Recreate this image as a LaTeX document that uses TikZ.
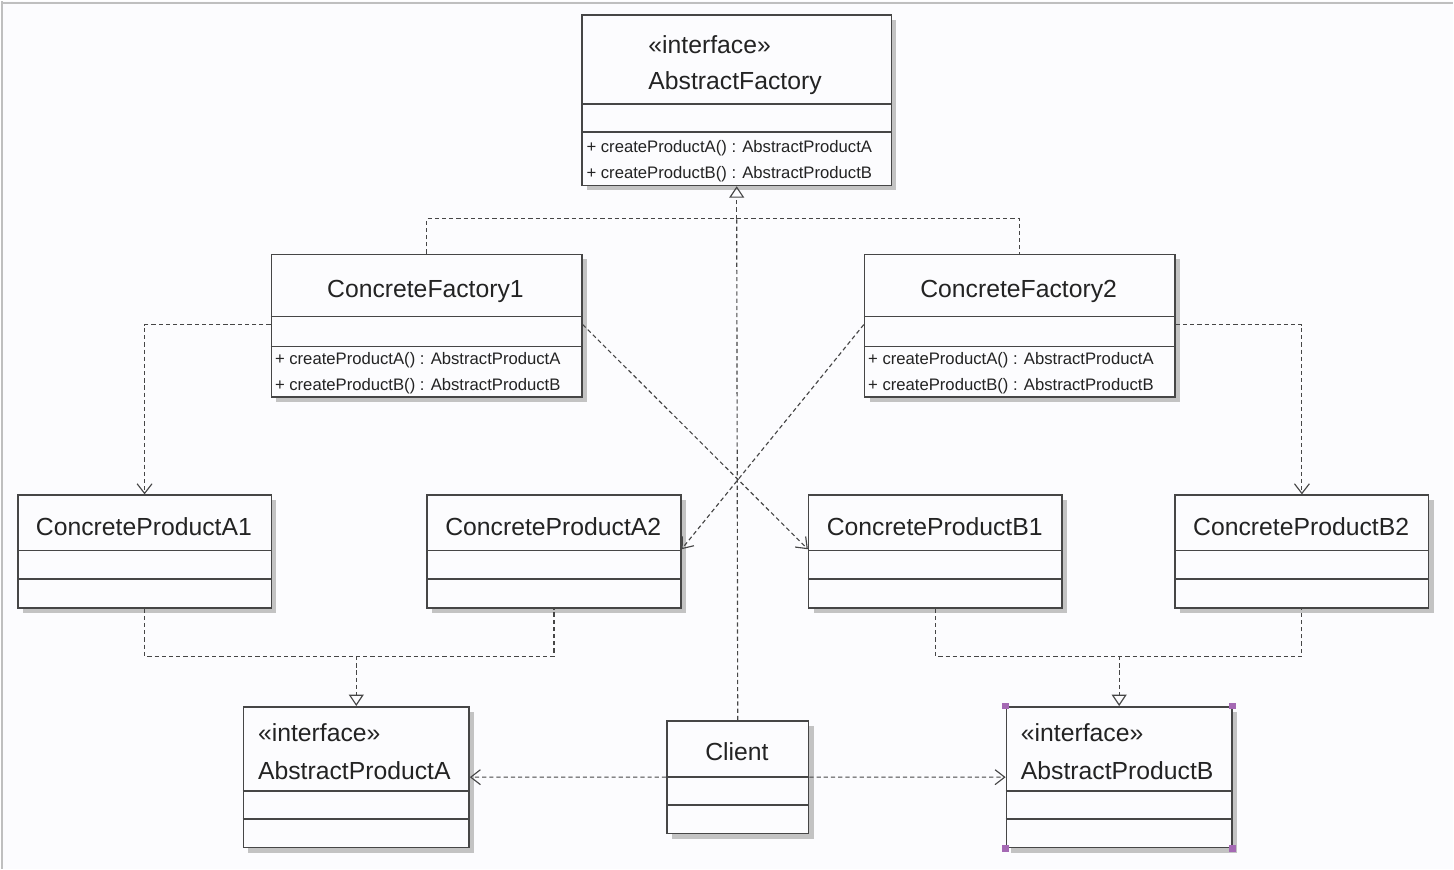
\documentclass[tikz,border=0pt]{standalone}
\usepackage{fontspec}
\setmainfont{Liberation Sans}
\usetikzlibrary{arrows.meta, shadows, positioning, calc}
\definecolor{umlline}{RGB}{70, 70, 70}
\definecolor{umltext}{RGB}{35, 35, 35}
\definecolor{umlbg}{RGB}{252, 252, 254}
\definecolor{umlshadow}{RGB}{195, 195, 195}
\definecolor{handle}{RGB}{165, 105, 180}

\begin{document}
\begin{tikzpicture}[x=0.02cm, y=-0.02cm,
  classbox/.style={draw=umlline, line width=0.85pt, fill=umlbg, anchor=north west, inner sep=0pt,
    drop shadow={shadow xshift=0.1cm, shadow yshift=-0.1cm, fill=umlshadow, opacity=1}},
  divider/.style={draw=umlline, line width=0.85pt},
  umltitle/.style={text=umltext, font=\fontsize{14.1}{17}\selectfont, inner sep=0pt, anchor=base},
  umlop/.style={text=umltext, font=\fontsize{9.5}{11}\selectfont, inner sep=0pt, anchor=base west},
  dashline/.style={draw=umlline, line width=0.65pt, dash pattern=on 2.4pt off 1.7pt},
  dep/.style={dashline, -{Straight Barb[length=5.5pt, width=8.5pt]}},
  real/.style={dashline, -{Triangle[open, length=6.5pt, width=8.5pt]}}]
  % Canvas
  \fill[umlbg] (0,0) rectangle (1454,869);
  \draw[black!25, line width=1.2pt] (0,2) -- (1454,2);
  \draw[black!25, line width=1.2pt] (1,0) -- (1,869);

  % Abstract factory
  \node[classbox, minimum width=6.2cm, minimum height=3.42cm] (af) at (581,13) {};
  \draw[divider] (af.west |- 0,103) -- (af.east |- 0,103);
  \draw[divider] (af.west |- 0,131) -- (af.east |- 0,131);
  \node[umltitle, anchor=base west] (afstereo) at (648,53) {«interface»};
  \node[umltitle, anchor=base west] (afname) at (648,89) {AbstractFactory};
  \node[umlop] (afopa) at (586,152) {+ createProductA() : AbstractProductA};
  \node[umlop] (afopb) at (586,178) {+ createProductB() : AbstractProductB};

  % Concrete factories
  \node[classbox, minimum width=6.22cm, minimum height=2.86cm] (cf1) at (270,253) {};
  \draw[divider] (cf1.west |- 0,316) -- (cf1.east |- 0,316);
  \draw[divider] (cf1.west |- 0,346) -- (cf1.east |- 0,346);
  \node[umltitle] (cf1name) at (425,297) {ConcreteFactory1};
  \node[umlop] (cf1opa) at (274,364) {+ createProductA() : AbstractProductA};
  \node[umlop] (cf1opb) at (274,390) {+ createProductB() : AbstractProductB};

  \node[classbox, minimum width=6.22cm, minimum height=2.86cm] (cf2) at (864,253) {};
  \draw[divider] (cf2.west |- 0,316) -- (cf2.east |- 0,316);
  \draw[divider] (cf2.west |- 0,346) -- (cf2.east |- 0,346);
  \node[umltitle] (cf2name) at (1019,297) {ConcreteFactory2};
  \node[umlop] (cf2opa) at (868,364) {+ createProductA() : AbstractProductA};
  \node[umlop] (cf2opb) at (868,390) {+ createProductB() : AbstractProductB};

  % Concrete products
  \foreach \id/\x/\label in {a1/16/ConcreteProductA1, a2/426/ConcreteProductA2,
                             b1/808/ConcreteProductB1, b2/1175/ConcreteProductB2} {
    \node[classbox, minimum width=5.08cm, minimum height=2.26cm] (\id) at (\x,494) {};
    \draw[divider] (\id.west |- 0,550) -- (\id.east |- 0,550);
    \draw[divider] (\id.west |- 0,579) -- (\id.east |- 0,579);
    \node[umltitle] (\id name) at (\x+127,535) {\label};
  }

  % Abstract products and client
  \node[classbox, minimum width=4.52cm, minimum height=2.82cm] (apa) at (242,706) {};
  \draw[divider] (apa.west |- 0,791) -- (apa.east |- 0,791);
  \draw[divider] (apa.west |- 0,819) -- (apa.east |- 0,819);
  \node[umltitle, anchor=base west] (apastereo) at (257,742) {«interface»};
  \node[umltitle, anchor=base west] (apaname) at (257,780) {AbstractProductA};

  \node[classbox, minimum width=4.52cm, minimum height=2.82cm] (apb) at (1006,706) {};
  \draw[divider] (apb.west |- 0,791) -- (apb.east |- 0,791);
  \draw[divider] (apb.west |- 0,819) -- (apb.east |- 0,819);
  \node[umltitle, anchor=base west] (apbstereo) at (1021,742) {«interface»};
  \node[umltitle, anchor=base west] (apbname) at (1021,780) {AbstractProductB};
  \foreach \c in {north west, north east, south west, south east}
    \fill[handle] (apb.\c) ++(-0.065cm,-0.065cm) rectangle ++(0.13cm,0.13cm);

  \node[classbox, minimum width=2.84cm, minimum height=2.26cm] (client) at (666,720) {};
  \draw[divider] (client.west |- 0,777) -- (client.east |- 0,777);
  \draw[divider] (client.west |- 0,805) -- (client.east |- 0,805);
  \node[umltitle] (clientname) at (737,761) {Client};

  % Realizations
  \coordinate (fjoin) at (af.south |- 0,218);
  \coordinate (ajoin) at (apa.north |- 0,656);
  \coordinate (bjoin) at (apb.north |- 0,656);
  \draw[dashline] (cf1.north) |- (fjoin) -| (cf2.north);
  \draw[dashline] (client.north) -- (fjoin);
  \draw[real] (fjoin) -- (af.south);
  \draw[dashline] (a1.south) |- (ajoin) -| (a2.south);
  \draw[real] (ajoin) -- (apa.north);
  \draw[dashline] (b1.south) |- (bjoin) -| (b2.south);
  \draw[real] (bjoin) -- (apb.north);

  % Dependencies
  \draw[dep] ([yshift=-1.42cm]cf1.north west) -| (a1.north);
  \draw[dep] ([yshift=-1.42cm]cf1.north east) -- ([yshift=-1.1cm]b1.north west);
  \draw[dep] ([yshift=-1.42cm]cf2.north west) -- ([yshift=-1.1cm]a2.north east);
  \draw[dep] ([yshift=-1.42cm]cf2.north east) -| (b2.north);
  \draw[dep] (client.west) -- (apa.east);
  \draw[dep] (client.east) -- (apb.west);
\end{tikzpicture}
\end{document}
